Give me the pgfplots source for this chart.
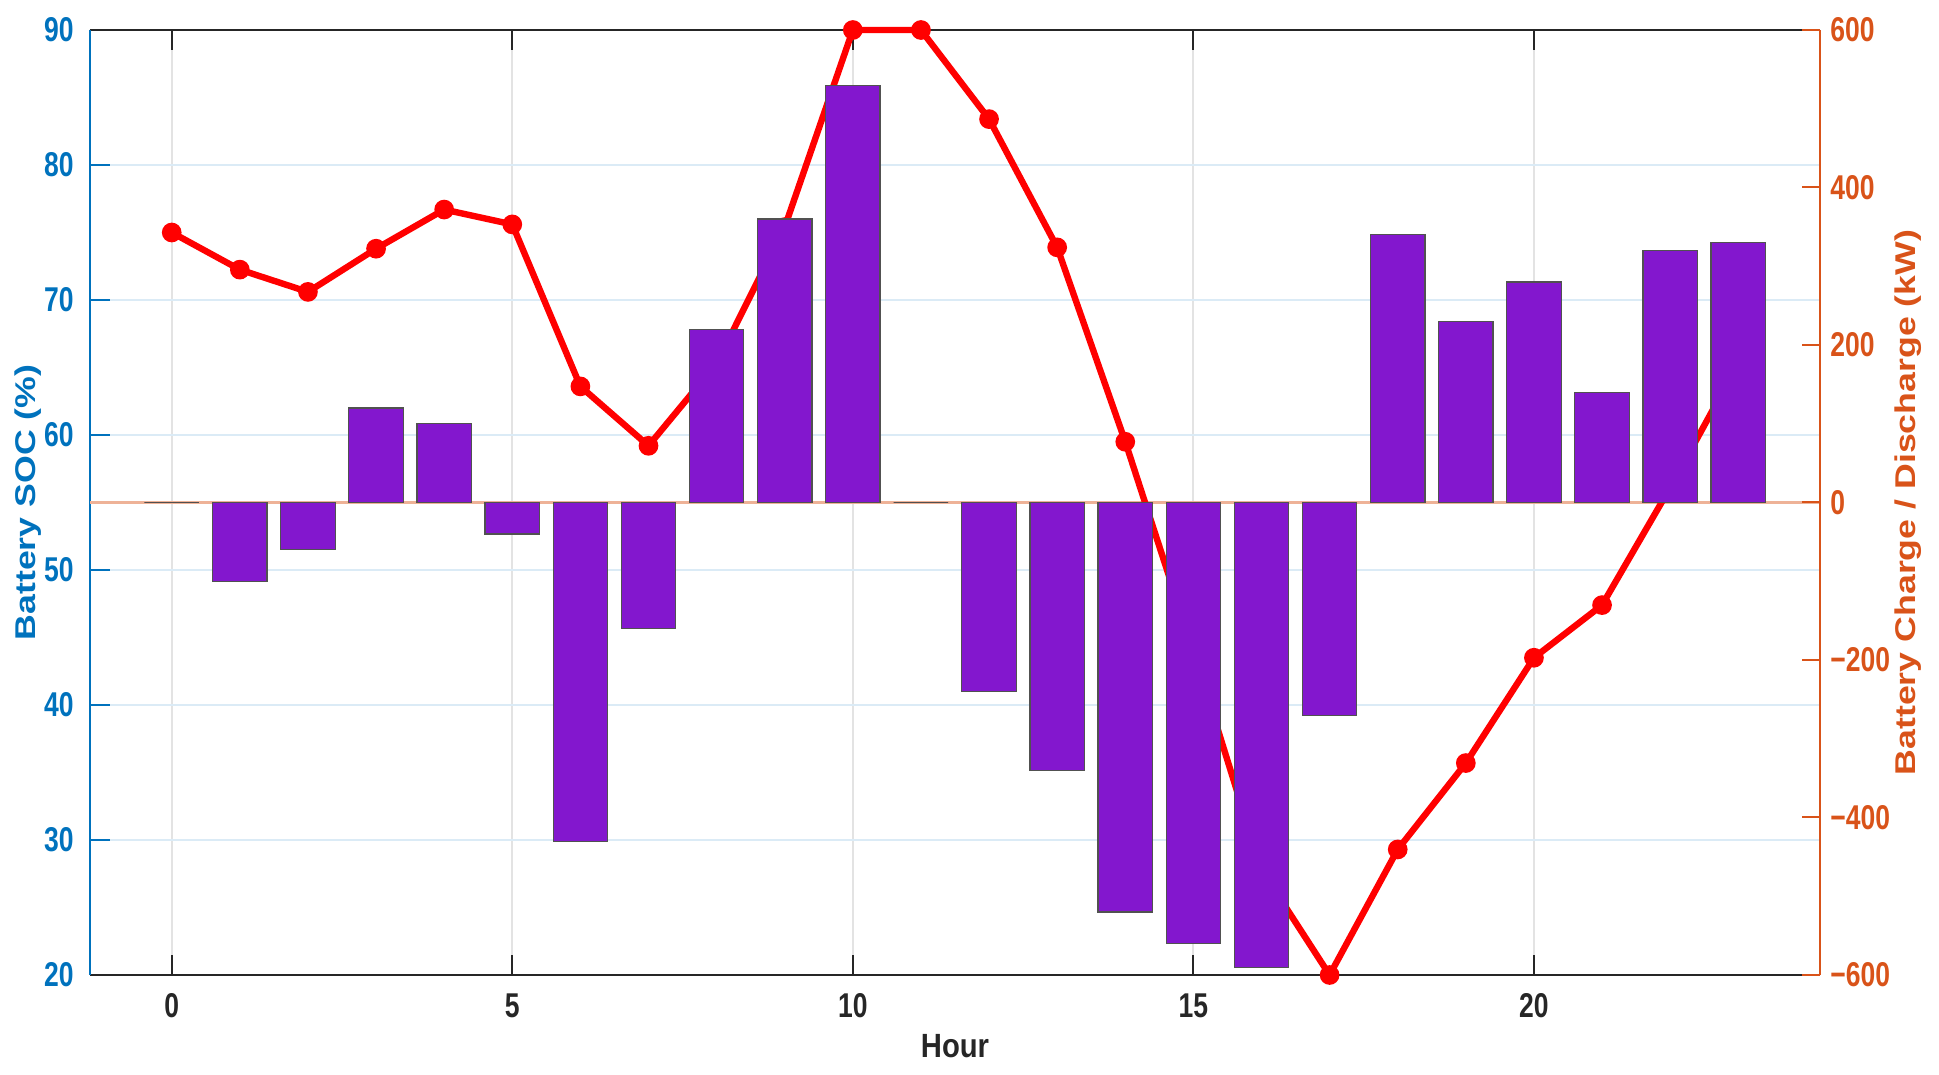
\documentclass[border=0pt]{standalone}
\usepackage{pgfplots}
\usepackage{pgfplotstable}
\usepackage{graphicx}
\pgfplotsset{compat=1.18}
\usepackage{fontspec}
\setmainfont{Liberation Sans}
\newfontfamily\tickfont[FakeStretch=0.77]{Liberation Sans}
\newfontfamily\hourfont[FakeStretch=0.87]{Liberation Sans}
\definecolor{socblue}{HTML}{0072BD}
\definecolor{pwrorange}{HTML}{D95319}
\definecolor{barpurple}{HTML}{8317CE}
\definecolor{axgray}{HTML}{262626}

\pgfplotstableread{
h soc p
0 75.0 0
1 72.25 -100
2 70.6 -60
3 73.8 120
4 76.7 100
5 75.6 -40
6 63.6 -430
7 59.2 -160
8 65.3 220
9 75.4 360
10 90.0 530
11 90.0 0
12 83.4 -240
13 73.9 -340
14 59.5 -520
15 44.0 -560
16 27.8 -590
17 20.0 -270
18 29.3 340
19 35.7 230
20 43.5 280
21 47.4 140
22 56.1 320
23 65.3 330
}\datatable

\begin{document}
\begin{tikzpicture}
\path[use as bounding box] (-45pt,-50pt) rectangle (924.5pt,487.5pt);
% vertical grid
\begin{axis}[at={(0,0)}, anchor=south west, scale only axis,
  width=865pt, height=472.5pt,
  xmin=-1.2, xmax=24.2, ymin=20, ymax=90,
  xtick={0,5,10,15,20}, xticklabels={}, ytick=\empty,
  xmajorgrids, grid style={axgray!13, line width=1pt},
  axis line style={draw=none}, tick style={draw=none}]
\addplot[draw=none, forget plot] coordinates {(0,50)};
\end{axis}
% SOC axis
\begin{axis}[at={(0,0)}, anchor=south west, scale only axis,
  width=865pt, height=472.5pt,
  xmin=-1.2, xmax=24.2, ymin=20, ymax=90,
  axis x line=box, axis y line=left,
  x axis line style={-, draw=axgray, line width=1pt},
  y axis line style={-, draw=socblue, line width=1pt},
  tick align=inside, major tick length=10pt,
  xtick={0,5,10,15,20}, xticklabels={0,5,10,15,20},
  ytick={20,30,40,50,60,70,80,90}, yticklabels={20,30,40,50,60,70,80,90},
  xtick style={draw=axgray, line width=1pt},
  ytick style={draw=socblue, line width=1pt},
  ymajorgrids, grid style={socblue!14, line width=1pt},
  xticklabel style={font=\tickfont\bfseries\fontsize{17.2}{18}\selectfont, text=axgray, anchor=north, inner sep=0pt, yshift=-9pt},
  yticklabel style={font=\tickfont\bfseries\fontsize{17.2}{18}\selectfont, text=socblue, anchor=east, inner sep=0pt, xshift=-8pt},
  every axis x label/.style={at={(rel axis cs:0.5,0)}, anchor=center, yshift=-35.5pt},
  every axis y label/.style={at={(rel axis cs:0,0.5)}, xshift=-31pt, rotate=90, anchor=center},
  xlabel={\hourfont\bfseries\fontsize{16.8}{18}\selectfont\textcolor{axgray}{Hour}},
  ylabel={\bfseries\fontsize{17.85}{20}\selectfont\textcolor{socblue}{\scalebox{1}[0.8]{Battery SOC (\%)}}},
  clip=false]
\addplot[draw=pwrorange!45, line width=1.2pt, forget plot] coordinates {(-1.2,55) (24.2,55)};
\addplot[color=red, line width=3.2pt, mark=*, mark size=3.3pt, mark options={fill=red, draw=red}] table[x=h, y=soc]{\datatable};
\end{axis}
% power axis
\begin{axis}[at={(0,0)}, anchor=south west, scale only axis,
  width=865pt, height=472.5pt,
  xmin=-1.2, xmax=24.2, ymin=-600, ymax=600,
  axis x line=none, axis y line=right,
  y axis line style={-, draw=pwrorange, line width=1pt},
  tick align=inside, major tick length=9pt,
  ytick={-600,-400,-200,0,200,400,600},
  yticklabels={−600,−400,−200,0,200,400,600},
  ytick style={draw=pwrorange, line width=1pt},
  yticklabel style={font=\tickfont\bfseries\fontsize{17.2}{18}\selectfont, text=pwrorange, anchor=west, inner sep=0pt, xshift=5pt},
  every axis y label/.style={at={(rel axis cs:1,0.5)}, xshift=44pt, rotate=90, anchor=center},
  ylabel={\bfseries\fontsize{17.85}{20}\selectfont\textcolor{pwrorange}{\scalebox{1}[0.8]{Battery Charge / Discharge (kW)}}},
  ybar, bar width=0.8]
\addplot[fill=barpurple, draw=axgray!80, line width=0.6pt] table[x=h, y=p]{\datatable};
\end{axis}
\end{tikzpicture}
\end{document}
